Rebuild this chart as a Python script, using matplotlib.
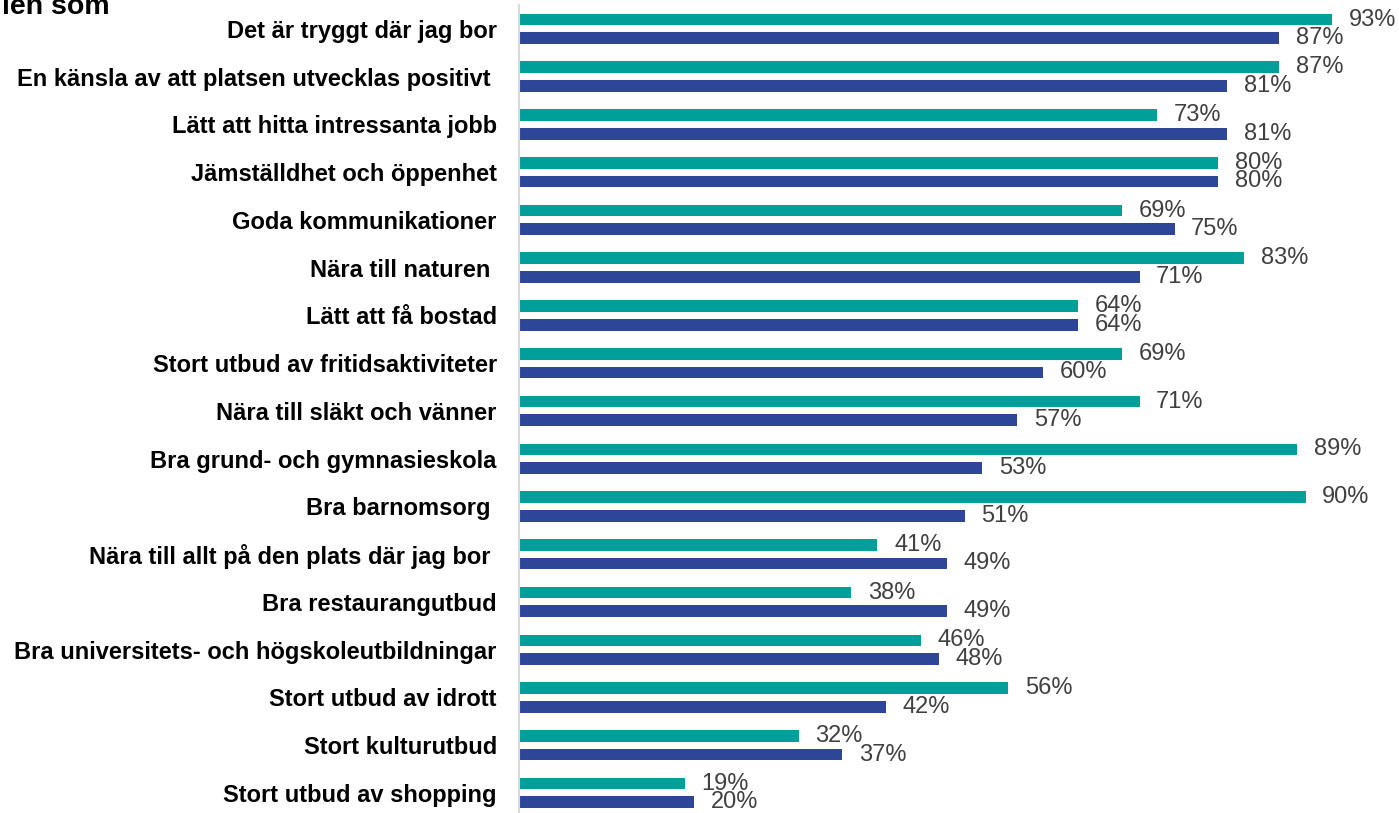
import numpy as np
import matplotlib
matplotlib.use('Agg')
from matplotlib import pyplot as plt

plt.rcParams['font.family'] = ['Liberation Sans', 'DejaVu Sans']

categories = ['Det är tryggt där jag bor',
              'En känsla av att platsen utvecklas positivt ',
              'Lätt att hitta intressanta jobb',
              'Jämställdhet och öppenhet',
              'Goda kommunikationer',
              'Nära till naturen ',
              'Lätt att få bostad',
              'Stort utbud av fritidsaktiviteter',
              'Nära till släkt och vänner',
              'Bra grund- och gymnasieskola',
              'Bra barnomsorg ',
              'Nära till allt på den plats där jag bor ',
              'Bra restaurangutbud',
              'Bra universitets- och högskoleutbildningar',
              'Stort utbud av idrott',
              'Stort kulturutbud',
              'Stort utbud av shopping']
serie1 = [93, 87, 73, 80, 69, 83, 64, 69, 71, 89, 90, 41, 38, 46, 56, 32, 19]
serie2 = [87, 81, 81, 80, 75, 71, 64, 60, 57, 53, 51, 49, 49, 48, 42, 37, 20]

teal = '#009F99'
blue = '#2E4698'

fig = plt.figure(figsize=(13.99, 8.13), dpi=100)
ax = fig.add_axes([519/1399, 0, 874/1399, 1 - 5/813])

y = np.arange(len(categories))
off = 0.195
h = 0.245
b1 = ax.barh(y - off, serie1, height=h, color=teal)
b2 = ax.barh(y + off, serie2, height=h, color=blue)

for bars, vals in [(b1, serie1), (b2, serie2)]:
    for bar, v in zip(bars, vals):
        ax.annotate('%d%%' % v, (bar.get_width(), bar.get_y() + bar.get_height() / 2),
                    xytext=(12, 0), textcoords='offset points',
                    ha='left', va='center', fontsize=17, color='#404040')

ax.set_xlim(0, 100)
ax.set_ylim(16.42, -0.5)
ax.set_yticks(y)
ax.set_yticklabels(categories, fontsize=17, fontweight='bold')
ax.tick_params(axis='y', length=0, pad=16)
ax.set_xticks([])
for s in ['top', 'right', 'bottom']:
    ax.spines[s].set_visible(False)
ax.spines['left'].set_color('#D9D9D9')
ax.spines['left'].set_linewidth(1.5)

fig.text(2/1399, 1 - 14/813, 'len som', fontsize=20.5, fontweight='bold',
         ha='left', va='baseline')

fig.savefig('out.png', dpi=100)
